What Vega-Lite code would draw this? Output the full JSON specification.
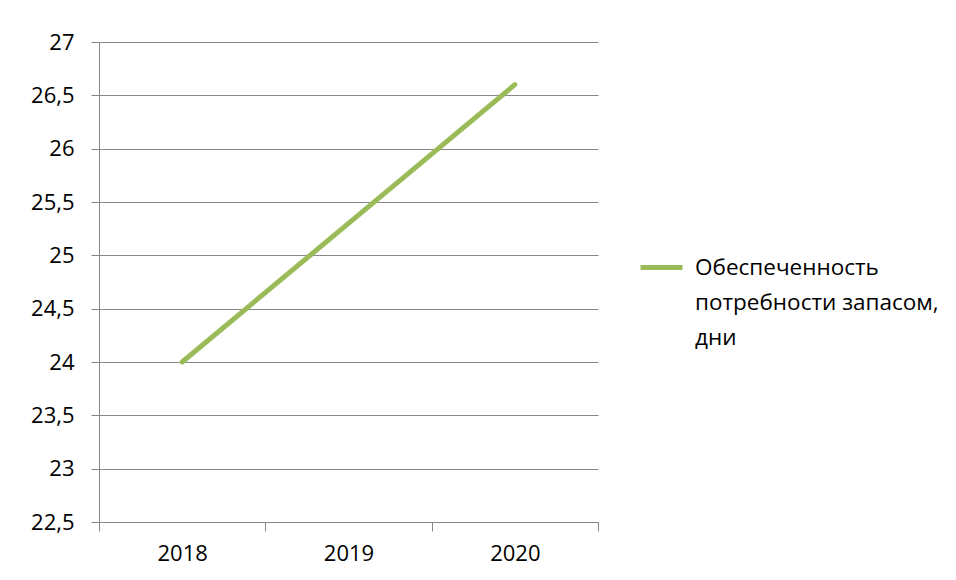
{
  "$schema": "https://vega.github.io/schema/vega-lite/v6.json",
  "autosize": {"type": "none"},
  "padding": {"left": 99, "top": 42, "right": 358, "bottom": 58},
  "width": 499,
  "height": 480,
  "background": "white",
  "config": {
    "font": "Open Sans",
    "view": {"stroke": null},
    "style": {"guide-label": {"lineHeight": 35}}
  },
  "data": {
    "values": [
      {"year": "2018", "value": 24.0, "series": "Обеспеченность потребности запасом, дни"},
      {"year": "2019", "value": 25.3, "series": "Обеспеченность потребности запасом, дни"},
      {"year": "2020", "value": 26.6, "series": "Обеспеченность потребности запасом, дни"}
    ]
  },
  "mark": {"type": "line", "strokeWidth": 5, "strokeCap": "round"},
  "encoding": {
    "x": {
      "field": "year",
      "type": "ordinal",
      "title": null,
      "scale": {"paddingInner": 0, "paddingOuter": 0},
      "axis": {
        "labelAngle": 0,
        "tickBand": "extent",
        "domainColor": "#868686",
        "tickColor": "#868686",
        "tickSize": 9,
        "labelFontSize": 22,
        "labelColor": "#000000",
        "labelPadding": 12,
        "grid": false
      }
    },
    "y": {
      "field": "value",
      "type": "quantitative",
      "title": null,
      "scale": {"domain": [22.5, 27], "zero": false, "nice": false},
      "axis": {
        "values": [22.5, 23, 23.5, 24, 24.5, 25, 25.5, 26, 26.5, 27],
        "labelExpr": "replace(toString(datum.value), '.', ',')",
        "domainColor": "#868686",
        "tickColor": "#868686",
        "tickSize": 8,
        "gridColor": "#868686",
        "gridWidth": 1,
        "gridOpacity": 1,
        "labelFontSize": 22,
        "labelColor": "#000000",
        "labelPadding": 17
      }
    },
    "color": {
      "field": "series",
      "type": "nominal",
      "scale": {"range": ["#9BBB59"]},
      "legend": {
        "title": null,
        "orient": "none",
        "legendX": 539,
        "legendY": 202,
        "symbolType": "stroke",
        "symbolSize": 1764,
        "symbolStrokeWidth": 5,
        "labelFontSize": 22.5,
        "labelColor": "#000000",
        "labelOffset": 10,
        "labelLimit": 400,
        "labelBaseline": "middle",
        "labelExpr": "['Обеспеченность', 'потребности запасом,', 'дни']"
      }
    }
  }
}
